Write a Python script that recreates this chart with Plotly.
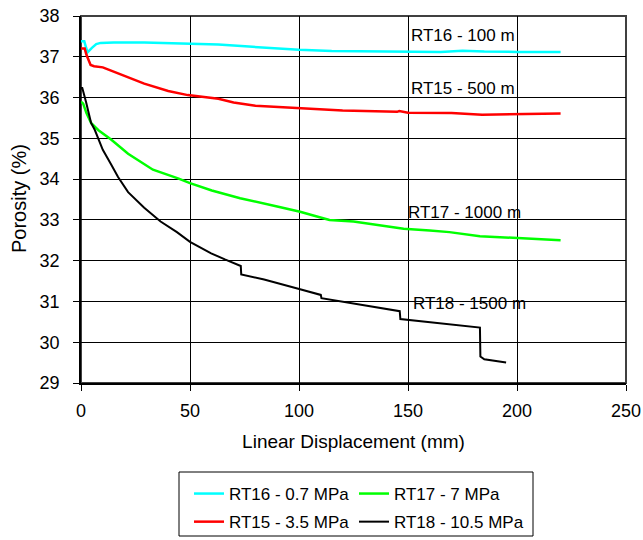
import plotly.graph_objects as go

# ---- data ----
rt16_x = [0, 1.5, 2.2, 3.0, 5, 7, 9, 15, 29, 35, 50, 63, 77, 90, 100, 115, 130, 150, 165, 175, 185, 200, 220]
rt16_y = [37.38, 37.38, 37.25, 37.11, 37.22, 37.31, 37.34, 37.35, 37.35, 37.34, 37.31, 37.30, 37.25, 37.20,
          37.17, 37.14, 37.13, 37.12, 37.12, 37.15, 37.13, 37.12, 37.12]

rt15_x = [0, 1.7, 2.5, 4.4, 6, 10, 13.8, 20, 29, 40, 49, 63, 70, 80, 100, 120, 145, 146, 150, 170, 184, 200, 220]
rt15_y = [37.20, 37.20, 37.05, 36.80, 36.77, 36.74, 36.66, 36.53, 36.34, 36.16, 36.06, 35.97, 35.88, 35.80,
          35.74, 35.68, 35.65, 35.67, 35.63, 35.62, 35.58, 35.60, 35.61]

rt17_x = [0, 1, 2.5, 4.7, 8, 13.8, 21.6, 33, 44.5, 50, 60, 73, 90, 100.5, 107, 114, 125, 137, 148, 160, 169, 183, 200, 220]
rt17_y = [35.90, 35.85, 35.62, 35.37, 35.20, 34.97, 34.62, 34.23, 34.02, 33.90, 33.72, 33.53, 33.33, 33.20,
          33.10, 33.00, 32.96, 32.87, 32.78, 32.74, 32.70, 32.60, 32.56, 32.50]

rt18_x = [0, 0.5, 2.4, 4.6, 6.3, 10, 13.9, 17, 21.6, 27, 29, 36.5, 44, 50, 54.6, 59.7, 66, 73.3, 73.5, 84,
          100.5, 110, 110.3, 125, 146.2, 146.5, 165, 183, 183.2, 185, 195]
rt18_y = [36.20, 36.25, 35.87, 35.38, 35.21, 34.72, 34.35, 34.05, 33.68, 33.41, 33.30, 32.96, 32.70, 32.46,
          32.32, 32.18, 32.03, 31.87, 31.66, 31.54, 31.30, 31.16, 31.08, 30.95, 30.76, 30.57, 30.46, 30.36,
          29.65, 29.58, 29.50]

x_ticks = [0, 50, 100, 150, 200, 250]
y_ticks = [29, 30, 31, 32, 33, 34, 35, 36, 37, 38]

labels = [
    ("RT16 - 100 m", 150.3, 37.53),
    ("RT15 - 500 m", 150.3, 36.23),
    ("RT17 - 1000 m", 149.1, 33.17),
    ("RT18 - 1500 m", 151.2, 30.96),
]

FONT = "Liberation Sans, Arial, sans-serif"
W, H = 643, 540

fig = go.Figure()
fig.add_trace(go.Scatter(x=rt16_x, y=rt16_y, mode="lines", name="RT16 - 0.7 MPa",
                         line=dict(color="#00FFFF", width=2.5), legend="legend", legendgroup="a"))
fig.add_trace(go.Scatter(x=rt15_x, y=rt15_y, mode="lines", name="RT15 - 3.5 MPa",
                         line=dict(color="#FF0000", width=2.5), legend="legend", legendgroup="b"))
fig.add_trace(go.Scatter(x=rt17_x, y=rt17_y, mode="lines", name="RT17 - 7 MPa",
                         line=dict(color="#00FF00", width=2.5), legend="legend2", legendgroup="c"))
fig.add_trace(go.Scatter(x=rt18_x, y=rt18_y, mode="lines", name="RT18 - 10.5 MPa",
                         line=dict(color="#000000", width=2), legend="legend2", legendgroup="d"))

for txt, x, y in labels:
    fig.add_annotation(x=x, y=y, xref="x", yref="y", text=txt, showarrow=False,
                       xanchor="left", yanchor="middle", font=dict(size=17, color="black", family=FONT))

PL, PR, PT, PB = 81, 626, 16, 383
def px2paper_x(px):
    return (px - PL) / (PR - PL)
def py2paper_y(py):
    return (PB - py) / (PB - PT)

# y-axis title
fig.add_annotation(x=px2paper_x(19), y=py2paper_y(199), xref="paper", yref="paper",
                   text="Porosity (%)", showarrow=False, textangle=-90,
                   xanchor="center", yanchor="middle", font=dict(size=20, color="black", family=FONT))

# plot area border (top/right)
fig.add_shape(type="rect", xref="paper", yref="paper", x0=0, x1=1, y0=0, y1=1,
              line=dict(color="#404040", width=2), layer="below")
# legend box
fig.add_shape(type="rect", xref="paper", yref="paper",
              x0=px2paper_x(179), x1=px2paper_x(533), y0=py2paper_y(536), y1=py2paper_y(472),
              line=dict(color="black", width=1))

leg_common = dict(font=dict(size=17, color="black", family=FONT), bgcolor="rgba(0,0,0,0)",
                  borderwidth=0, orientation="v", tracegroupgap=3, yanchor="top", xanchor="left",
                  xref="container", yref="container", itemwidth=30)

fig.update_layout(
    width=W, height=H,
    margin=dict(l=PL, r=W - PR, t=PT, b=H - PB, autoexpand=False),
    paper_bgcolor="white", plot_bgcolor="white",
    font=dict(family=FONT, size=17, color="black"),
    showlegend=True,
    legend=dict(**leg_common, x=189 / W, y=1 - 476 / H),
    legend2=dict(**leg_common, x=354 / W, y=1 - 476 / H),
    xaxis=dict(range=[0, 250], tickvals=x_ticks, showgrid=True, gridcolor="black", gridwidth=1,
               showline=True, linecolor="black", linewidth=1.5, ticks="outside", ticklen=6,
               tickcolor="black", zeroline=False, automargin=True, ticklabelstandoff=5,
               title=dict(text="Linear Displacement (mm)", standoff=14, font=dict(size=19)),
               tickfont=dict(size=18)),
    yaxis=dict(range=[29, 38], tickvals=y_ticks, showgrid=True, gridcolor="black", gridwidth=1,
               showline=True, linecolor="black", linewidth=1.5, ticks="outside", ticklen=6,
               tickcolor="black", zeroline=False, automargin=True, ticklabelstandoff=10,
               tickfont=dict(size=18)),
)

fig.write_html("out.html")
